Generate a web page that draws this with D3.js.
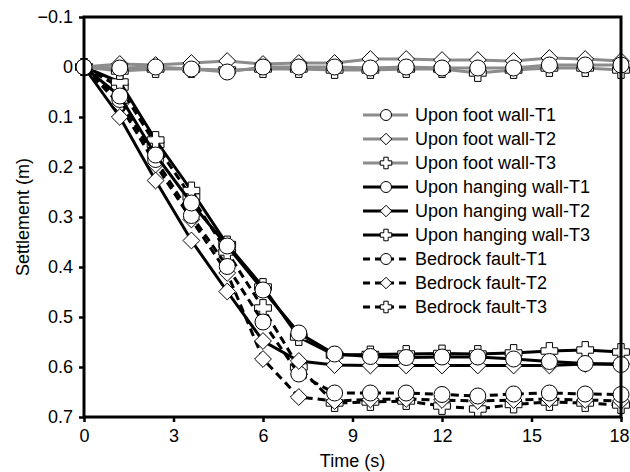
<!DOCTYPE html>
<html>
<head>
<meta charset="utf-8">
<script src="https://cdn.jsdelivr.net/npm/d3@7"></script>
<style>
  body { margin: 0; background: #fff; }
  svg text { font-family: "Liberation Sans", Arial, sans-serif; fill: #000; }
</style>
</head>
<body>
<div id="chart"></div>
<script>
var width = 630,
    height = 472;

// time steps (s)
var time = [0, 1.2, 2.4, 3.6, 4.8, 6, 7.2, 8.4, 9.6, 10.8, 12, 13.2, 14.4, 15.6, 16.8, 18];

// settlement (m)
var footT1 = [0, 0.002, 0.000, 0.004, 0.010, 0.000, 0.000, 0.000, 0.002, 0.000, 0.002, 0.002, 0.002, -0.004, -0.004, -0.004];
var footT2 = [0, -0.006, -0.004, -0.008, -0.012, -0.006, -0.008, -0.008, -0.016, -0.016, -0.014, -0.014, -0.012, -0.018, -0.016, -0.012];
var footT3 = [0, 0.008, 0.004, 0.004, 0.006, 0.004, 0.004, 0.006, 0.006, 0.004, 0.004, 0.012, 0.006, 0.002, 0.002, 0.006];
var hangT1 = [0, 0.058, 0.176, 0.272, 0.358, 0.446, 0.532, 0.574, 0.579, 0.581, 0.580, 0.580, 0.584, 0.589, 0.593, 0.595];
var hangT2 = [0, 0.100, 0.227, 0.347, 0.449, 0.548, 0.588, 0.596, 0.597, 0.597, 0.597, 0.597, 0.597, 0.597, 0.594, 0.594];
var hangT3 = [0, 0.030, 0.146, 0.247, 0.355, 0.440, 0.540, 0.576, 0.575, 0.574, 0.573, 0.574, 0.572, 0.568, 0.566, 0.570];
var bedT1 = [0, 0.065, 0.185, 0.297, 0.399, 0.510, 0.614, 0.652, 0.652, 0.652, 0.655, 0.658, 0.654, 0.652, 0.654, 0.655];
var bedT2 = [0, 0.075, 0.195, 0.305, 0.412, 0.584, 0.660, 0.668, 0.665, 0.664, 0.666, 0.668, 0.666, 0.664, 0.666, 0.668];
var bedT3 = [0, 0.040, 0.155, 0.260, 0.370, 0.482, 0.600, 0.672, 0.670, 0.668, 0.678, 0.684, 0.675, 0.670, 0.672, 0.676];

var xTicks = [0, 3, 6, 9, 12, 15, 18];
var yTicks = [-0.1, 0, 0.1, 0.2, 0.3, 0.4, 0.5, 0.6, 0.7];

var series = [
    { name: 'Upon foot wall-T1', values: footT1, marker: 'circle', color: '#8c8c8c', dash: null },
    { name: 'Upon foot wall-T2', values: footT2, marker: 'diamond', color: '#8c8c8c', dash: null },
    { name: 'Upon foot wall-T3', values: footT3, marker: 'plus', color: '#8c8c8c', dash: null },
    { name: 'Upon hanging wall-T1', values: hangT1, marker: 'circle', color: '#000', dash: null },
    { name: 'Upon hanging wall-T2', values: hangT2, marker: 'diamond', color: '#000', dash: null },
    { name: 'Upon hanging wall-T3', values: hangT3, marker: 'plus', color: '#000', dash: null },
    { name: 'Bedrock fault-T1', values: bedT1, marker: 'circle', color: '#000', dash: '8,5' },
    { name: 'Bedrock fault-T2', values: bedT2, marker: 'diamond', color: '#000', dash: '8,5' },
    { name: 'Bedrock fault-T3', values: bedT3, marker: 'plus', color: '#000', dash: '8,5' }
];

var margin = { top: 17, right: 9, bottom: 55, left: 84 };

var x = d3.scaleLinear().domain([0, 18]).range([margin.left, width - margin.right]);
var y = d3.scaleLinear().domain([-0.1, 0.7]).range([margin.top, height - margin.bottom]);

var svg = d3.select('#chart').append('svg')
    .attr('width', width)
    .attr('height', height);

// marker shapes, centred on 0,0
function markerPath(type, s) {
    if (type === 'diamond') {
        return 'M0,' + (-s) + 'L' + s + ',0L0,' + s + 'L' + (-s) + ',0Z';
    }
    if (type === 'plus') {
        var t = s * 0.38;
        return 'M' + (-t) + ',' + (-s) + 'H' + t + 'V' + (-t) + 'H' + s + 'V' + t +
            'H' + t + 'V' + s + 'H' + (-t) + 'V' + t + 'H' + (-s) + 'V' + (-t) + 'H' + (-t) + 'Z';
    }
    return null;
}

function drawMarker(g, type, size) {
    if (type === 'circle') {
        g.append('circle').attr('r', size);
    } else {
        g.append('path').attr('d', markerPath(type, size * 1.05));
    }
}

// axes
var xAxis = d3.axisBottom(x)
    .tickValues(xTicks)
    .tickSize(5)
    .tickSizeOuter(0)
    .tickPadding(7);

var yAxis = d3.axisLeft(y)
    .tickValues(yTicks)
    .tickSize(5)
    .tickSizeOuter(0)
    .tickPadding(6)
    .tickFormat(function (d) {
        return Math.abs(d) < 1e-9 ? '0' : d3.format('.1f')(d);
    });

var gx = svg.append('g')
    .attr('transform', 'translate(0,' + y(0.7) + ')')
    .call(xAxis);

var gy = svg.append('g')
    .attr('transform', 'translate(' + x(0) + ',0)')
    .call(yAxis);

[gx, gy].forEach(function (g) {
    g.select('.domain').remove();
    g.selectAll('.tick line').attr('stroke', '#000').attr('stroke-width', 2.5);
    g.selectAll('.tick text').style('font-size', '18px').attr('fill', '#000');
});

// keep the last x label inside the page
gx.selectAll('.tick text')
    .filter(function (d) { return d === 18; })
    .attr('dx', '-2');

// series, last one first so circles sit on top
var line = d3.line()
    .x(function (d) { return x(d[0]); })
    .y(function (d) { return y(d[1]); });

var plot = svg.append('g');

series.slice().reverse().forEach(function (s) {
    var pts = time.map(function (t, i) { return [t, s.values[i]]; });
    var g = plot.append('g');

    g.append('path')
        .datum(pts)
        .attr('d', line)
        .attr('fill', 'none')
        .attr('stroke', s.color)
        .attr('stroke-width', 3)
        .attr('stroke-dasharray', s.dash);

    g.selectAll('g.pt')
        .data(pts)
        .enter().append('g')
        .attr('class', 'pt')
        .attr('transform', function (d) { return 'translate(' + x(d[0]) + ',' + y(d[1]) + ')'; })
        .each(function () {
            drawMarker(d3.select(this), s.marker, 8);
        })
        .selectAll('circle, path')
        .attr('fill', '#fff')
        .attr('stroke', '#000')
        .attr('stroke-width', 1);
});

// frame
svg.append('rect')
    .attr('x', x(0))
    .attr('y', y(-0.1))
    .attr('width', x(18) - x(0))
    .attr('height', y(0.7) - y(-0.1))
    .attr('fill', 'none')
    .attr('stroke', '#000')
    .attr('stroke-width', 3);

// legend
var legend = svg.append('g')
    .attr('transform', 'translate(363,115)');

var legItem = legend.selectAll('g.item')
    .data(series)
    .enter().append('g')
    .attr('class', 'item')
    .attr('transform', function (d, i) { return 'translate(0,' + (i * 24) + ')'; });

legItem.append('line')
    .attr('x1', 0)
    .attr('x2', 45)
    .attr('stroke', function (d) { return d.color; })
    .attr('stroke-width', 3)
    .attr('stroke-dasharray', function (d) { return d.dash ? '7,5' : null; });

legItem.append('g')
    .attr('transform', 'translate(23,0)')
    .each(function (d) {
        drawMarker(d3.select(this), d.marker, 5.5);
    })
    .selectAll('circle, path')
    .attr('fill', '#fff')
    .attr('stroke', '#000')
    .attr('stroke-width', 1);

legItem.append('text')
    .attr('x', 52)
    .attr('dy', '0.35em')
    .style('font-size', '18px')
    .text(function (d) { return d.name; });

// axis titles
svg.append('text')
    .attr('x', (x(0) + x(18)) / 2)
    .attr('y', 467)
    .attr('text-anchor', 'middle')
    .style('font-size', '18px')
    .text('Time (s)');

svg.append('text')
    .attr('transform', 'translate(29,' + y(0.3) + ') rotate(-90)')
    .attr('text-anchor', 'middle')
    .style('font-size', '18px')
    .text('Settlement (m)');
</script>
</body>
</html>
